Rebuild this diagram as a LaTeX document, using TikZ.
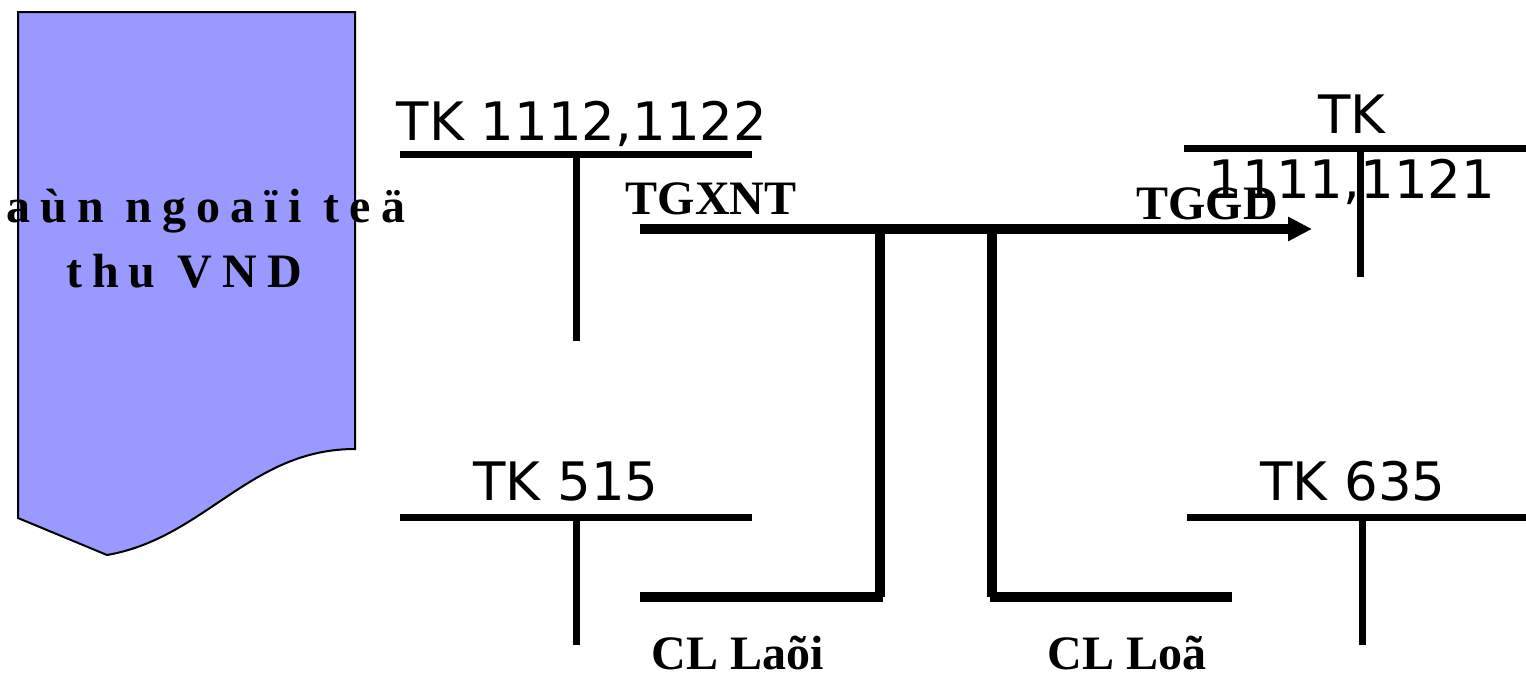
\documentclass[tikz,border=0pt]{standalone}
\usepackage{fontspec}
\setmainfont{Liberation Serif}
\newfontfamily\tkfont{DejaVu Sans}
\newfontfamily\docfont[LetterSpace=21]{Liberation Serif}
\usetikzlibrary{arrows.meta}
\definecolor{docblue}{RGB}{153,153,255}
\tikzset{
  tkline/.style={line width=3.5pt},
  flowline/.style={line width=5pt},
  tklabel/.style={anchor=base,inner sep=0pt,font=\tkfont\fontsize{26.5}{30}\selectfont},
  flowlabel/.style={anchor=base,inner sep=0pt,font=\bfseries\fontsize{24}{28}\selectfont},
  doclabel/.style={anchor=base,inner sep=0pt,font=\docfont\bfseries\fontsize{24}{28}\selectfont},
}
\begin{document}
\begin{tikzpicture}[x=0.5pt,y=-0.5pt]
\useasboundingbox (0,0) rectangle (1526,676);
% chung tu
\draw[fill=docblue,line width=1pt] (18,12) -- (355,12) -- (355,449)
  .. controls (250,449) and (205,538) .. (107,555) -- (18,518) -- cycle;
\node[doclabel,anchor=base west] (docA) at (6,222) {aùn ngoaïi teä};
\node[doclabel] (docB) at (184,287) {thu VND};
% tai khoan chu T
\coordinate (A1) at (400,154);
\coordinate (A2) at (752,154);
\coordinate (A3) at (576,154);
\coordinate (A4) at (576,341);
\draw[tkline] (A1)--(A2);
\draw[tkline] (A3)--(A4);
\coordinate (B1) at (400,517);
\coordinate (B2) at (752,517);
\coordinate (B3) at (576,517);
\coordinate (B4) at (576,645);
\draw[tkline] (B1)--(B2);
\draw[tkline] (B3)--(B4);
\coordinate (C1) at (1184,148);
\coordinate (C2) at (1526,148);
\coordinate (C3) at (1360,148);
\coordinate (C4) at (1360,277);
\draw[tkline] (C1)--(C2);
\draw[tkline] (C3)--(C4);
\coordinate (D1) at (1187,517);
\coordinate (D2) at (1526,517);
\coordinate (D3) at (1362,517);
\coordinate (D4) at (1362,645);
\draw[tkline] (D1)--(D2);
\draw[tkline] (D3)--(D4);
% dong tien
\coordinate (F1) at (640,229);
\coordinate (F2) at (1312,229);
\coordinate (J1) at (880,229);
\coordinate (J2) at (992,229);
\coordinate (L1) at (640,597);
\coordinate (L2) at (882.5,597);
\coordinate (R1) at (989.5,597);
\coordinate (R2) at (1232,597);
\draw[flowline,-{Triangle[length=12pt,width=11.5pt]}] (F1)--(F2);
\draw[flowline] (J1)--(J1|-L1);
\draw[flowline] (J2)--(J2|-R1);
\draw[flowline] (L1)--(L2);
\draw[flowline] (R1)--(R2);
% nhan
\node[tklabel] (tkA) at (582,140) {TK 1112,1122};
\node[tklabel] (tkB) at (566,500) {TK 515};
\node[tklabel] (tkC) at (1352,133) {TK};
\node[tklabel] (tkCb) at (1352,198) {1111,1121};
\node[tklabel] (tkD) at (1353,500) {TK 635};
\node[flowlabel] (tgxnt) at (711,214) {TGXNT};
\node[flowlabel] (tggd) at (1207,219) {TGGD};
\node[flowlabel] (clLai) at (738,669) {CL Laõi};
\node[flowlabel] (clLo) at (1127,669) {CL Loã};
\end{tikzpicture}
\end{document}
